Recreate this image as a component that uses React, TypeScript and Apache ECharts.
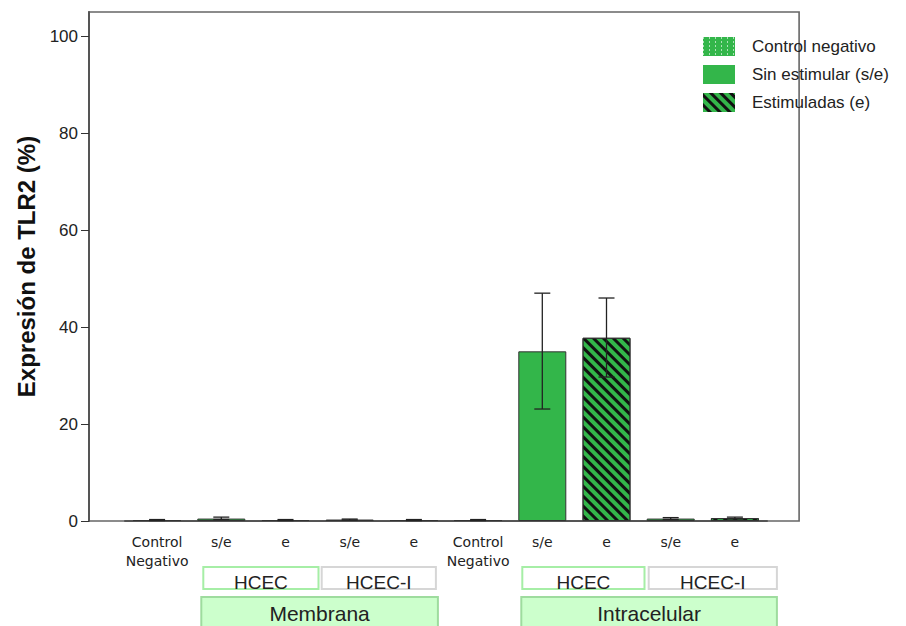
import React, { useEffect, useRef } from "react";
import * as echarts from "echarts";

// ---- data ----
const categories = [
  "Control\nNegativo", "s/e", "e", "s/e", "e",
  "Control\nNegativo", "s/e", "e", "s/e", "e",
];
const controlNegativo = [0.2, "-", "-", "-", "-", 0.2, "-", "-", "-", "-"];
const sinEstimular = ["-", 0.5, "-", 0.3, "-", "-", 35.0, "-", 0.5, "-"];
const estimuladas = ["-", "-", 0.2, "-", 0.2, "-", "-", 37.8, "-", 0.6];
const errorLow = [0.1, 0.3, 0.1, 0.2, 0.1, 0.1, 23.1, 29.7, 0.3, 0.4];
const errorHigh = [0.3, 0.8, 0.3, 0.4, 0.3, 0.3, 47.0, 46.0, 0.7, 0.8];
const yTicks = [0, 20, 40, 60, 80, 100];
const seriesNames = ["Control negativo", "Sin estimular (s/e)", "Estimuladas (e)"];
// group boxes: [label, firstCategory, lastCategory]
const cellGroups: [string, number, number][] = [
  ["HCEC", 1, 2], ["HCEC-I", 3, 4], ["HCEC", 6, 7], ["HCEC-I", 8, 9],
];
const locationGroups: [string, number, number][] = [
  ["Membrana", 1, 4], ["Intracelular", 6, 9],
];

const GREEN = "#33b64a";
const FONT = "Liberation Sans, Arial, sans-serif";

export default function App() {
  const ref = useRef<HTMLDivElement>(null);
  useEffect(() => {
    if (!ref.current) return;
    const chart = echarts.init(ref.current, null, { renderer: "svg" });
    const barBase = {
      type: "bar" as const,
      barWidth: 48,
      barGap: "-100%",
      itemStyle: { color: GREEN, borderColor: "#333", borderWidth: 1 },
    };
    chart.setOption({
      animation: false,
      backgroundColor: "#fff",
      grid: { left: 125, right: 139, top: 12, bottom: 105 },
      legend: {
        orient: "vertical",
        left: 703,
        top: 37,
        padding: 0,
        itemWidth: 32,
        itemHeight: 19,
        itemGap: 9,
        icon: "rect",
        data: seriesNames,
        itemStyle: { borderWidth: 0 },
        textStyle: { fontFamily: FONT, fontSize: 17, color: "#222", padding: [0, 0, 0, 12] },
      },
      xAxis: {
        type: "category",
        data: categories,
        axisLine: { lineStyle: { color: "#555", width: 2 } },
        axisTick: { alignWithLabel: true, length: 8, lineStyle: { color: "#333" } },
        axisLabel: {
          interval: 0,
          fontFamily: "DejaVu Sans, Verdana, sans-serif",
          fontSize: 14,
          lineHeight: 19,
          color: "#222",
          margin: 11,
        },
      },
      yAxis: {
        type: "value",
        min: 0,
        max: 105,
        offset: 36,
        name: "Expresión de TLR2 (%)",
        nameLocation: "middle",
        nameGap: 49,
        nameTextStyle: { fontFamily: FONT, fontSize: 24, fontWeight: "bold", color: "#111" },
        axisLine: { show: true, lineStyle: { color: "#555", width: 2 } },
        axisTick: { show: true, length: 8, customValues: yTicks, lineStyle: { color: "#333" } },
        axisLabel: { customValues: yTicks, fontFamily: FONT, fontSize: 17, color: "#222", margin: 11 },
        splitLine: { show: false },
      },
      series: [
        {
          ...barBase,
          name: seriesNames[0],
          data: controlNegativo,
          itemStyle: {
            ...barBase.itemStyle,
            decal: {
              symbol: "rect",
              symbolSize: 1,
              dashArrayX: [1, 5],
              dashArrayY: [2, 2],
              color: "rgba(255,255,255,0.6)",
            },
          },
        },
        { ...barBase, name: seriesNames[1], data: sinEstimular },
        {
          ...barBase,
          name: seriesNames[2],
          data: estimuladas,
          itemStyle: {
            ...barBase.itemStyle,
            decal: {
              symbol: "rect",
              symbolSize: 1,
              dashArrayX: [1, 0],
              dashArrayY: [3, 4],
              rotation: Math.PI / 4,
              color: "#111",
            },
          },
        },
        {
          type: "custom",
          name: "error",
          z: 10,
          data: errorLow.map((lo, i) => [i, lo, errorHigh[i]]),
          encode: { x: 0, y: [1, 2] },
          renderItem: (params: any, api: any) => {
            const x = api.value(0);
            const lo = api.coord([x, api.value(1)]);
            const hi = api.coord([x, api.value(2)]);
            const w = 8;
            const style = { stroke: "#222", lineWidth: 1.3 };
            return {
              type: "group",
              children: [
                { type: "line", shape: { x1: hi[0], y1: hi[1], x2: lo[0], y2: lo[1] }, style },
                { type: "line", shape: { x1: hi[0] - w, y1: hi[1], x2: hi[0] + w, y2: hi[1] }, style },
                { type: "line", shape: { x1: lo[0] - w, y1: lo[1], x2: lo[0] + w, y2: lo[1] }, style },
              ],
            };
          },
        },
      ],
    });

    // frame and group boxes from axis positions
    const cx = (i: number) => chart.convertToPixel({ xAxisIndex: 0 }, i) as number;
    const yTop = chart.convertToPixel({ yAxisIndex: 0 }, 105) as number;
    const y0 = chart.convertToPixel({ yAxisIndex: 0 }, 0) as number;
    const band = cx(1) - cx(0);
    const xLeft = cx(0) - band * 1.06;
    const xRight = cx(9) + band * 1.0;
    const graphics: any[] = [
      {
        type: "rect",
        z: 0,
        silent: true,
        shape: { x: xLeft, y: yTop, width: xRight - xLeft, height: y0 - yTop },
        style: { fill: "none", stroke: "#666", lineWidth: 1.6 },
      },
    ];
    const cellOffsets = [[-18, 33], [-28, 22], [-20, 38], [-22, 42]];
    const cellBorders = ["#a6eea6", "#d6d6d6", "#a6eea6", "#d6d6d6"];
    cellGroups.forEach(([label, a, b], k) => {
      const x1 = cx(a) + cellOffsets[k][0];
      const x2 = cx(b) + cellOffsets[k][1];
      graphics.push({
        type: "rect",
        shape: { x: x1, y: 567, width: x2 - x1, height: 22 },
        style: { fill: "#fff", stroke: cellBorders[k], lineWidth: 2 },
      });
      graphics.push({
        type: "text",
        x: (x1 + x2) / 2,
        y: 582,
        style: {
          text: label, fontFamily: FONT, fontSize: 19, fill: "#222",
          align: "center", verticalAlign: "middle",
        },
      });
    });
    const locOffsets = [[-20, 24], [-21, 42]];
    locationGroups.forEach(([label, a, b], k) => {
      const x1 = cx(a) + locOffsets[k][0];
      const x2 = cx(b) + locOffsets[k][1];
      graphics.push({
        type: "rect",
        shape: { x: x1, y: 597, width: x2 - x1, height: 40 },
        style: { fill: "#ccffcc", stroke: "#9edc9e", lineWidth: 2 },
      });
      graphics.push({
        type: "text",
        x: (x1 + x2) / 2,
        y: 613,
        style: {
          text: label, fontFamily: FONT, fontSize: 21, fill: "#222",
          align: "center", verticalAlign: "middle",
        },
      });
    });
    chart.setOption({ graphic: graphics });
    return () => chart.dispose();
  }, []);
  return (
    <div
      ref={ref}
      style={{ position: "absolute", left: 0, top: 0, width: 906, height: 626 }}
    />
  );
}
